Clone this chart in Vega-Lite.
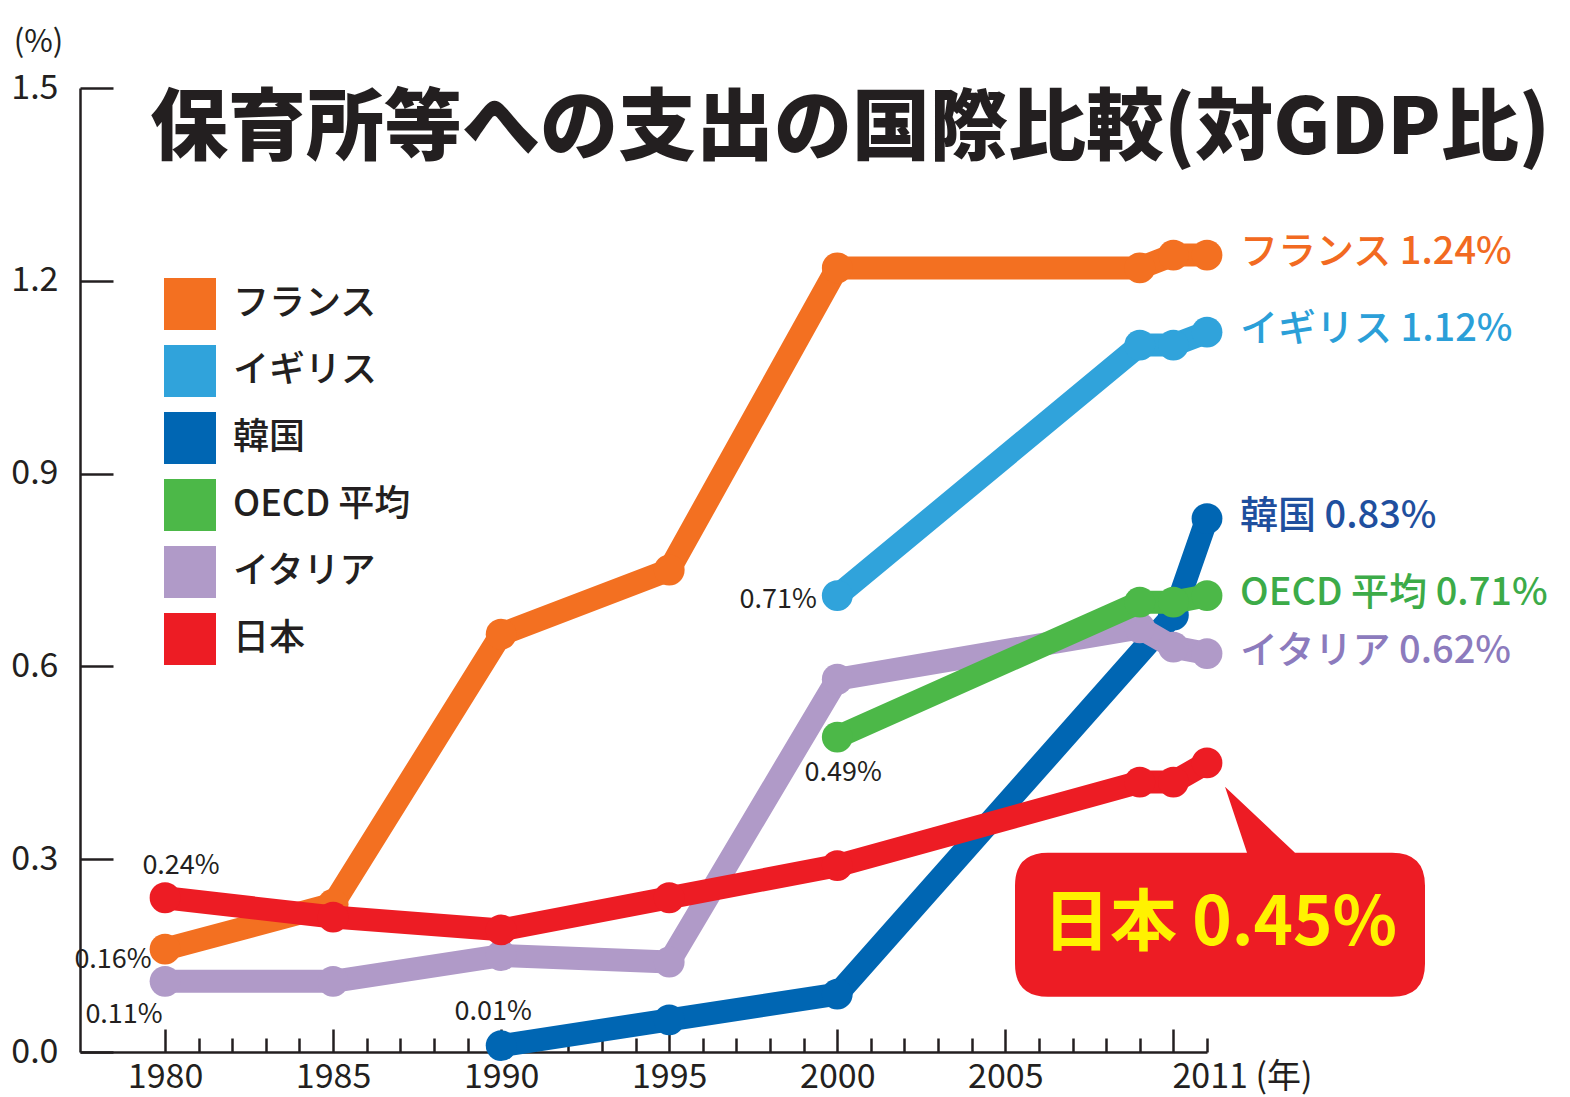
{
  "$schema": "https://vega.github.io/schema/vega-lite/v6.json",
  "width": 1127,
  "height": 964,
  "autosize": "none",
  "padding": {"left": 80, "top": 88, "right": 363, "bottom": 45},
  "background": "white",
  "title": {
    "text": "保育所等への支出の国際比較(対GDP比)",
    "anchor": "start", "frame": "group", "orient": "top",
    "baseline": "top", "offset": 6, "dx": 70, "dy": 150,
    "font": "Noto Sans CJK JP", "fontSize": 78, "fontWeight": 900, "color": "#231f20"
  },
  "config": {
    "view": {"stroke": null},
    "axis": {
      "domainColor": "#231f20", "domainWidth": 2.5,
      "tickColor": "#231f20", "tickWidth": 2.5,
      "labelColor": "#231f20", "labelFont": "Noto Sans CJK JP", "labelFontSize": 34,
      "grid": false
    }
  },
  "datasets": {
    "main": [
      {"series": "フランス", "year": 1980, "value": 0.16},
      {"series": "フランス", "year": 1985, "value": 0.23},
      {"series": "フランス", "year": 1990, "value": 0.65},
      {"series": "フランス", "year": 1995, "value": 0.75},
      {"series": "フランス", "year": 2000, "value": 1.22},
      {"series": "フランス", "year": 2009, "value": 1.22},
      {"series": "フランス", "year": 2010, "value": 1.24},
      {"series": "フランス", "year": 2011, "value": 1.24},
      {"series": "イギリス", "year": 2000, "value": 0.71},
      {"series": "イギリス", "year": 2009, "value": 1.10},
      {"series": "イギリス", "year": 2010, "value": 1.10},
      {"series": "イギリス", "year": 2011, "value": 1.12},
      {"series": "韓国", "year": 1990, "value": 0.01},
      {"series": "韓国", "year": 1995, "value": 0.05},
      {"series": "韓国", "year": 2000, "value": 0.09},
      {"series": "韓国", "year": 2010, "value": 0.68},
      {"series": "韓国", "year": 2011, "value": 0.83},
      {"series": "OECD 平均", "year": 2000, "value": 0.49},
      {"series": "OECD 平均", "year": 2009, "value": 0.70},
      {"series": "OECD 平均", "year": 2010, "value": 0.70},
      {"series": "OECD 平均", "year": 2011, "value": 0.71},
      {"series": "イタリア", "year": 1980, "value": 0.11},
      {"series": "イタリア", "year": 1985, "value": 0.11},
      {"series": "イタリア", "year": 1990, "value": 0.15},
      {"series": "イタリア", "year": 1995, "value": 0.14},
      {"series": "イタリア", "year": 2000, "value": 0.58},
      {"series": "イタリア", "year": 2009, "value": 0.66},
      {"series": "イタリア", "year": 2010, "value": 0.63},
      {"series": "イタリア", "year": 2011, "value": 0.62},
      {"series": "日本", "year": 1980, "value": 0.24},
      {"series": "日本", "year": 1985, "value": 0.21},
      {"series": "日本", "year": 1990, "value": 0.19},
      {"series": "日本", "year": 1995, "value": 0.24},
      {"series": "日本", "year": 2000, "value": 0.29},
      {"series": "日本", "year": 2009, "value": 0.42},
      {"series": "日本", "year": 2010, "value": 0.42},
      {"series": "日本", "year": 2011, "value": 0.45}
    ],
    "ends": [
      {"series": "フランス", "year": 2011, "value": 1.24, "label": "フランス 1.24%"},
      {"series": "イギリス", "year": 2011, "value": 1.12, "label": "イギリス 1.12%"},
      {"series": "韓国", "year": 2011, "value": 0.83, "label": "韓国 0.83%"},
      {"series": "OECD 平均", "year": 2011, "value": 0.71, "label": "OECD 平均 0.71%"},
      {"series": "イタリア", "year": 2011, "value": 0.62, "label": "イタリア 0.62%"}
    ],
    "callout": [
      {"series": "日本", "year": 2011, "value": 0.45, "label": "日本 0.45%"}
    ],
    "ann": [
      {"series": "日本", "year": 1980, "value": 0.24, "label": "0.24%"},
      {"series": "フランス", "year": 1980, "value": 0.16, "label": "0.16%"},
      {"series": "イタリア", "year": 1980, "value": 0.11, "label": "0.11%"},
      {"series": "韓国", "year": 1990, "value": 0.01, "label": "0.01%"},
      {"series": "イギリス", "year": 2000, "value": 0.71, "label": "0.71%"},
      {"series": "OECD 平均", "year": 2000, "value": 0.49, "label": "0.49%"}
    ]
  },
  "encoding": {
    "x": {
      "field": "year", "type": "quantitative",
      "scale": {"domain": [1977.47, 2011], "nice": false, "zero": false},
      "axis": {
        "title": null,
        "values": [1980,1981,1982,1983,1984,1985,1986,1987,1988,1989,1990,1991,1992,1993,1994,1995,1996,1997,1998,1999,2000,2001,2002,2003,2004,2005,2006,2007,2008,2009,2010,2011],
        "format": "d",
        "tickSize": {"condition": {"test": "datum.value % 5 == 0", "value": -23}, "value": -14},
        "labelExpr": "indexof([1980,1985,1990,1995,2000,2005], datum.value) >= 0 ? datum.label : (datum.value == 2011 ? '2011 (年)' : '')",
        "labelAlign": {"condition": {"test": "datum.value == 2011", "value": "left"}, "value": "center"},
        "labelOffset": {"condition": {"test": "datum.value == 2011", "value": -35}, "value": 0},
        "labelPadding": {"condition": {"test": "datum.value == 2011", "value": 22}, "value": 31},
        "labelOverlap": false,
        "labelFlush": false,
        "labelBound": false
      }
    },
    "y": {
      "field": "value", "type": "quantitative",
      "scale": {"domain": [0, 1.5], "nice": false, "zero": true},
      "axis": {
        "values": [0, 0.3, 0.6, 0.9, 1.2, 1.5],
        "format": ".1f",
        "tickSize": -33,
        "labelPadding": 55,
        "labelOverlap": false,
        "labelFlush": false,
        "title": "(%)",
        "titleAngle": 0, "titleX": -42, "titleY": -46,
        "titleAlign": "center", "titleBaseline": "middle",
        "titleFont": "Noto Sans CJK JP", "titleFontSize": 31, "titleFontWeight": "normal", "titleColor": "#231f20"
      }
    }
  },
  "layer": [
    {
      "data": {"name": "main"},
      "transform": [{"filter": "datum.series == '韓国'"}],
      "encoding": {"color": {"field": "series", "type": "nominal"}},
      "layer": [
        {"mark": {"type": "line", "strokeWidth": 23, "strokeCap": "round", "strokeJoin": "round"}},
        {"mark": {"type": "point", "filled": true, "size": 950, "opacity": 1}}
      ]
    },
    {
      "data": {"name": "main"},
      "transform": [{"filter": "datum.series == 'フランス'"}],
      "encoding": {"color": {"field": "series", "type": "nominal"}},
      "layer": [
        {"mark": {"type": "line", "strokeWidth": 23, "strokeCap": "round", "strokeJoin": "round"}},
        {"mark": {"type": "point", "filled": true, "size": 950, "opacity": 1}}
      ]
    },
    {
      "data": {"name": "main"},
      "transform": [{"filter": "datum.series == 'イギリス'"}],
      "encoding": {"color": {"field": "series", "type": "nominal"}},
      "layer": [
        {"mark": {"type": "line", "strokeWidth": 23, "strokeCap": "round", "strokeJoin": "round"}},
        {"mark": {"type": "point", "filled": true, "size": 950, "opacity": 1}}
      ]
    },
    {
      "data": {"name": "main"},
      "transform": [{"filter": "datum.series == 'イタリア'"}],
      "encoding": {"color": {"field": "series", "type": "nominal"}},
      "layer": [
        {"mark": {"type": "line", "strokeWidth": 23, "strokeCap": "round", "strokeJoin": "round"}},
        {"mark": {"type": "point", "filled": true, "size": 950, "opacity": 1}}
      ]
    },
    {
      "data": {"name": "main"},
      "transform": [{"filter": "datum.series == 'OECD 平均'"}],
      "encoding": {"color": {"field": "series", "type": "nominal"}},
      "layer": [
        {"mark": {"type": "line", "strokeWidth": 23, "strokeCap": "round", "strokeJoin": "round"}},
        {"mark": {"type": "point", "filled": true, "size": 950, "opacity": 1}}
      ]
    },
    {
      "data": {"name": "main"},
      "transform": [{"filter": "datum.series == '日本'"}],
      "encoding": {
        "color": {
          "field": "series", "type": "nominal",
          "scale": {
            "domain": ["フランス", "イギリス", "韓国", "OECD 平均", "イタリア", "日本"],
            "range": ["#f37021", "#30a3db", "#0066b3", "#4cb848", "#b09ac8", "#ed1c24"]
          },
          "legend": {
            "title": null, "orient": "none", "legendX": 84, "legendY": 190,
            "symbolType": "square", "symbolSize": 2704, "symbolStrokeWidth": 0,
            "symbolOpacity": 1, "symbolFillColor": "#000",
            "labelFont": "Noto Sans CJK JP", "labelFontSize": 36, "labelFontWeight": 500,
            "labelColor": "#231f20", "labelOffset": 17, "rowPadding": 15, "padding": 0,
            "labelLimit": 400,
            "encode": {"symbols": {"update": {"fill": {"scale": "color", "field": "value"}, "strokeWidth": {"value": 0}}}}
          }
        }
      },
      "layer": [
        {"mark": {"type": "line", "strokeWidth": 23, "strokeCap": "round", "strokeJoin": "round"}},
        {"mark": {"type": "point", "filled": true, "size": 950, "opacity": 1}}
      ]
    },
    {
      "data": {"name": "callout"},
      "mark": {
        "type": "point", "filled": true, "opacity": 1, "size": 250000, "color": "#ed1c24",
        "shape": "M -0.636 0.36 L 0.16 0.36 L 0.072 0.096 L 0.352 0.36 L 0.74 0.36 Q 0.872 0.36 0.872 0.492 L 0.872 0.804 Q 0.872 0.936 0.74 0.936 L -0.636 0.936 Q -0.768 0.936 -0.768 0.804 L -0.768 0.492 Q -0.768 0.36 -0.636 0.36 Z"
      }
    },
    {
      "data": {"name": "callout"},
      "mark": {"type": "text", "dx": 13, "dy": 162, "align": "center", "baseline": "middle", "font": "Noto Sans CJK JP", "fontSize": 67, "fontWeight": "bold", "color": "#fff200"},
      "encoding": {"text": {"field": "label"}}
    },
    {
      "data": {"name": "ends"},
      "mark": {"type": "text", "dx": 33, "dy": -2, "align": "left", "baseline": "middle", "font": "Noto Sans CJK JP", "fontSize": 38, "fontWeight": 500},
      "encoding": {
        "text": {"field": "label"},
        "fill": {
          "field": "series", "type": "nominal", "legend": null,
          "scale": {
            "domain": ["フランス", "イギリス", "韓国", "OECD 平均", "イタリア"],
            "range": ["#f26a21", "#2b9fd8", "#1f4f9e", "#3cab48", "#8c7bbd"]
          }
        }
      }
    },
    {
      "data": {"name": "ann"},
      "transform": [{"filter": "datum.label == '0.24%'"}],
      "mark": {"type": "text", "dx": 16, "dy": -32, "align": "center", "baseline": "middle", "font": "Noto Sans CJK JP", "fontSize": 27, "color": "#231f20"},
      "encoding": {"text": {"field": "label"}}
    },
    {
      "data": {"name": "ann"},
      "transform": [{"filter": "datum.label == '0.16%'"}],
      "mark": {"type": "text", "dx": -52, "dy": 11, "align": "center", "baseline": "middle", "font": "Noto Sans CJK JP", "fontSize": 27, "color": "#231f20"},
      "encoding": {"text": {"field": "label"}}
    },
    {
      "data": {"name": "ann"},
      "transform": [{"filter": "datum.label == '0.11%'"}],
      "mark": {"type": "text", "dx": -41, "dy": 34, "align": "center", "baseline": "middle", "font": "Noto Sans CJK JP", "fontSize": 27, "color": "#231f20"},
      "encoding": {"text": {"field": "label"}}
    },
    {
      "data": {"name": "ann"},
      "transform": [{"filter": "datum.label == '0.01%'"}],
      "mark": {"type": "text", "dx": -8, "dy": -34, "align": "center", "baseline": "middle", "font": "Noto Sans CJK JP", "fontSize": 27, "color": "#231f20"},
      "encoding": {"text": {"field": "label"}}
    },
    {
      "data": {"name": "ann"},
      "transform": [{"filter": "datum.label == '0.71%'"}],
      "mark": {"type": "text", "dx": -59, "dy": 4, "align": "center", "baseline": "middle", "font": "Noto Sans CJK JP", "fontSize": 27, "color": "#231f20"},
      "encoding": {"text": {"field": "label"}}
    },
    {
      "data": {"name": "ann"},
      "transform": [{"filter": "datum.label == '0.49%'"}],
      "mark": {"type": "text", "dx": 6, "dy": 36, "align": "center", "baseline": "middle", "font": "Noto Sans CJK JP", "fontSize": 27, "color": "#231f20"},
      "encoding": {"text": {"field": "label"}}
    }
  ]
}
